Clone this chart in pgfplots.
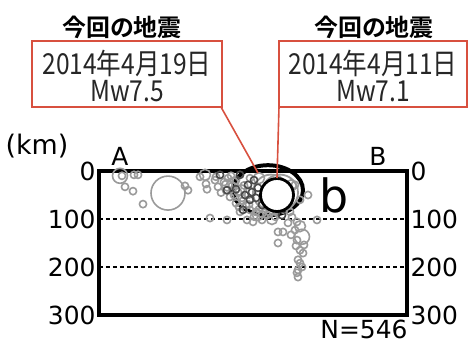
\documentclass[border=0pt]{standalone}
\usepackage{fontspec}
\usepackage{pgfplots}
\pgfplotsset{compat=1.18}
\setmainfont{DejaVu Sans}
\newfontfamily\cjk[BoldFont={Noto Sans CJK JP Bold}]{Noto Sans CJK JP}
\newfontfamily\cjkc[FakeStretch=0.85]{Noto Sans CJK JP}
\definecolor{qgray}{HTML}{9A9A9A}
\definecolor{qdark}{HTML}{4A4A4A}
\definecolor{qred}{HTML}{D8503F}

% hypocentres: x = distance along A-B (bp), y = depth (km)
\pgfplotstableread{
x y
26 33 
34 42
44 69
35 8
39 8
23 10
86 31
89 40
108 38
111 98
128 102
148 102
154 106
163 102
189 108
198 106
218 102
209 50
179 127
184 127
179 150
198 144
201 165
204 171
197 156
205 154
199 185
203 200
199 206
201 192
199 221
198 212
196 123
192 133
101 12
107 27
116 19
119 33
125 23
129 15
127 40
133 31
137 19
139 44
143 56
131 54
137 67
147 71
151 81
157 85
163 90
171 88
177 85
185 81
191 85
193 96
141 85
201 60
196 29
151 15
122 45
117 12
132 10
145 30
135 50
144 62
150 70
160 80
168 92
176 95
140 75
155 95
}\smallgray
\pgfplotstableread{
x y
121 8
128 40
144 81
183 92
149 29
153 44
146 50
151 60
157 56
155 19
159 35
141 8
163 71
137 38
}\smalldark
\pgfplotstableread{
x y
106 8
173 100
159 92
201 115
134 25
142 40
160 15
165 65
188 70
192 30
128 30
150 45
}\midgray
\pgfplotstableread{
x y
21 10
203 137
}\biggray

\begin{document}
\begin{tikzpicture}
\useasboundingbox (-99bp,-29bp) rectangle (370bp,315bp);
\begin{axis}[
  at={(0,0)}, anchor=south west,
  scale only axis, width=308bp, height=144bp,
  xmin=0, xmax=308, ymin=0, ymax=300, y dir=reverse,
  xtick=\empty,
  ytick={0,100,200,300}, yticklabels={0,100,200,300},
  yticklabel style={font=\fontsize{25}{25}\selectfont},
  major tick length=0,
  ymajorgrids,
  major grid style={black, line width=1.6bp, dash pattern=on 4bp off 3bp},
  axis line style={line width=4bp},
  clip=false,
]
\addplot[only marks, mark=o, qgray, mark size=3.6bp, mark options={line width=1.6bp}] table {\smallgray};
\addplot[only marks, mark=o, qgray, mark size=5.5bp, mark options={line width=1.6bp}] table {\midgray};
\addplot[only marks, mark=o, qgray, mark size=7.5bp, mark options={line width=1.6bp}] table {\biggray};
\addplot[only marks, mark=o, qgray, mark size=17bp, mark options={line width=1.6bp}] coordinates {(69,46)};
\addplot[only marks, mark=o, qgray, mark size=18bp, mark options={line width=1.8bp}] coordinates {(181,45) (172,45)};
\addplot[only marks, mark=o, qdark, mark size=3.6bp, mark options={line width=1.6bp}] table {\smalldark};
\addplot[only marks, mark=*, mark size=16.5bp, mark options={draw=black, fill=white, line width=2.8bp}] coordinates {(178,50)};
\draw[line width=4bp] (axis cs:169,40) ellipse [x radius=35bp, y radius=25bp];
\end{axis}
\begin{axis}[
  at={(0,0)}, anchor=south west,
  scale only axis, width=308bp, height=144bp,
  xmin=0, xmax=308, ymin=0, ymax=300, y dir=reverse,
  xtick=\empty,
  ytick={0,100,200,300}, yticklabels={0,100,200,300},
  yticklabel pos=right,
  yticklabel style={font=\fontsize{25}{25}\selectfont},
  major tick length=0,
  axis line style={draw=none},
]
\end{axis}
\begin{scope}[x=1bp, y=-1bp, shift={(-99bp,315bp)}]
  \draw[qred, line width=1.6bp] (221,107) -- (258,173);
  \draw[qred, line width=1.6bp] (279,107) -- (277,178);
  \draw[qred, line width=2bp, fill=white] (32,41) rectangle (222,107);
  \draw[qred, line width=2bp, fill=white] (279,41) rectangle (467,107);
  \node[font=\cjk\bfseries\fontsize{24}{24}\selectfont] at (122,27) {今回の地震};
  \node[font=\cjk\bfseries\fontsize{24}{24}\selectfont] at (374,27) {今回の地震};
  \node[font=\cjkc\fontsize{29}{29}\selectfont, text=black!85] at (127,63) {2014年4月19日};
  \node[font=\cjkc\fontsize{29}{29}\selectfont, text=black!85] at (127,91) {Mw7.5};
  \node[font=\cjkc\fontsize{29}{29}\selectfont, text=black!85] at (373,63) {2014年4月11日};
  \node[font=\cjkc\fontsize{29}{29}\selectfont, text=black!85] at (373,91) {Mw7.1};
  \node[font=\fontsize{27}{27}\selectfont] at (37,146) {(km)};
  \node[font=\fontsize{25}{25}\selectfont] at (120,156) {A};
  \node[font=\fontsize{25}{25}\selectfont] at (378,156) {B};
  \node[font=\fontsize{46}{46}\selectfont] at (334,195) {b};
  \node[font=\fontsize{25}{25}\selectfont, inner sep=1bp] at (364,329) {N=546};
\end{scope}
\end{tikzpicture}
\end{document}
